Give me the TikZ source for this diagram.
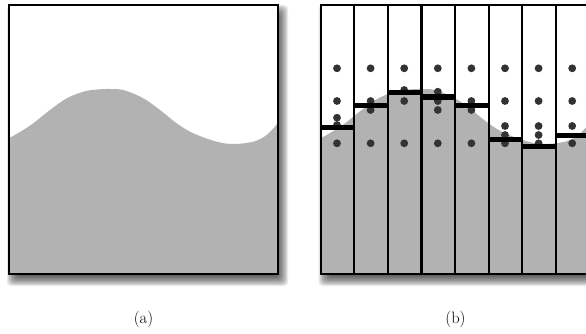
\documentclass[tikz,border=0pt]{standalone}
\begin{document}
\begin{tikzpicture}[x=1pt,y=-1pt,
  surface/.style={fill=black!30},
  frame/.style={draw=black,line width=1.9pt},
  colline/.style={draw=black,line width=2.2pt},
  level/.style={draw=black,line width=5.5pt},
  sample/.style={fill=black!80},
  caption/.style={font=\fontsize{16.5}{19}\selectfont,inner sep=0pt}]
\clip (0,0) rectangle (586,334);
\newcommand{\wavecurve}{plot[smooth,tension=0.55] coordinates {(9,138.3) (20,132) (33.3,123.3) (50,110) (66.7,98.3) (83.3,91.7) (96,89.6) (110,89) (124,90.2) (143.3,98.3) (160,110) (176.7,123.3) (193.3,133.3) (216.7,141.7) (233.3,144) (253.3,141.7) (266.7,135) (278,123)}}
\newcommand{\shadowbox}[4]{%
  \foreach \i in {0,...,9}{
    \pgfmathsetmacro{\g}{6-1.1*\i}
    \fill[black,opacity=0.09,rounded corners=4pt] (#1+4-\g,#2+6-\g) rectangle (#3+4+\g,#4+6+\g);
  }}
% ---------- panel (a)
\shadowbox{9}{5}{278}{274}
\fill[white] (9,5) rectangle (278,274);
\fill[surface] \wavecurve -- (278,274) -- (9,274) -- cycle;
\draw[frame] (9,5) rectangle (278,274);
% ---------- panel (b)
\shadowbox{320.7}{5}{589.5}{274}
\fill[white] (320.7,5) rectangle (589.5,274);
\begin{scope}
  \clip (320.7,5) rectangle (589.5,274);
  \begin{scope}[shift={(311.7,0)}]
    \fill[surface] \wavecurve -- (278,274) -- (9,274) -- cycle;
  \end{scope}
\end{scope}
\foreach \k/\b/\ds in {1/127.3/{68.3,101,117.7,125,143.3},
                       2/105.7/{68.3,101,110,143.3},
                       3/92.7/{68.3,90,101,143.3},
                       4/97/{68.3,91.7,101,110,143.3},
                       5/105.7/{68.3,101,110,143.3},
                       6/139.3/{68.3,101,126,135,143.3},
                       7/146.7/{68.3,101,126,135,143.3},
                       8/135.7/{68.3,101,126,143.3}}{
  \pgfmathsetmacro{\xl}{320.7+33.6*(\k-1)}
  \pgfmathsetmacro{\xr}{320.7+33.6*\k}
  \pgfmathsetmacro{\xc}{\xl+16.3}
  \foreach \d in \ds {\fill[sample] (\xc,\d) circle (3.9pt);}
  \draw[level] (\xl,\b) -- (\xr,\b);
}
\foreach \k in {1,...,7}{
  \pgfmathsetmacro{\xl}{320.7+33.6*\k}
  \draw[colline] (\xl,5) -- (\xl,274);
}
\draw[frame] (320.7,5) rectangle (589.5,274);
% ---------- captions
\node[caption] (capa) at (143.5,319) {(a)};
\node[caption] (capb) at (455.5,319) {(b)};
\end{tikzpicture}
\end{document}
